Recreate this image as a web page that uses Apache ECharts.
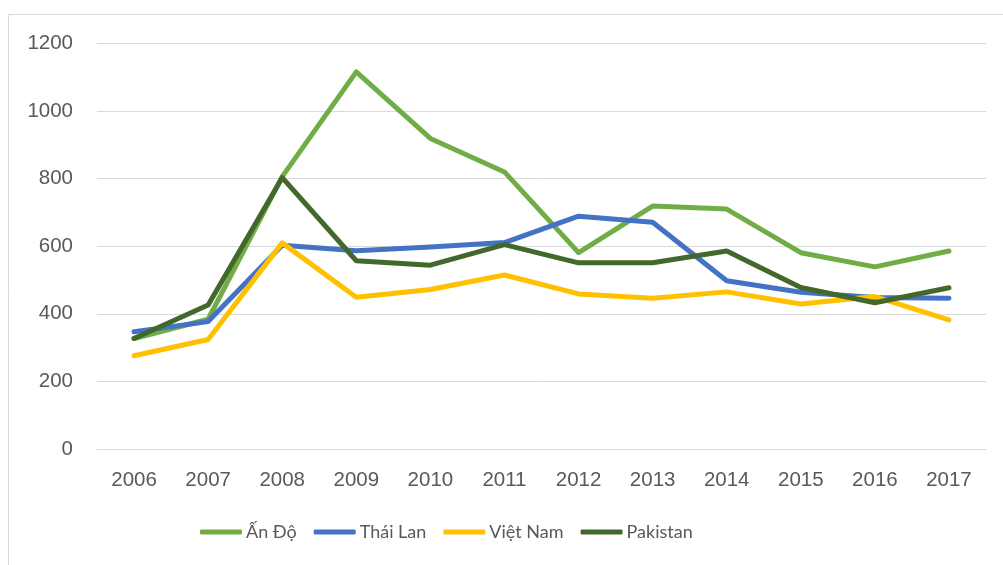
<!DOCTYPE html>
<html>
<head>
<meta charset="utf-8">
<script src="https://cdn.jsdelivr.net/npm/echarts@6/dist/echarts.min.js"></script>
<style>
html,body{margin:0;padding:0;background:#fff;}
#chart{width:1003px;height:565px;}
</style>
</head>
<body>
<div id="chart"></div>
<script>
const years = ['2006','2007','2008','2009','2010','2011','2012','2013','2014','2015','2016','2017'];
const seriesNames = ['Ấn Độ','Thái Lan','Việt Nam','Pakistan'];
const anDo     = [327, 384, 806, 1116, 919, 820, 581, 719, 710, 581, 539, 586];
const thaiLan  = [347, 377, 603, 587, 598, 611, 689, 671, 498, 464, 448, 446];
const vietNam  = [276, 324, 610, 449, 472, 515, 459, 446, 465, 429, 451, 382];
const pakistan = [327, 426, 803, 557, 544, 605, 551, 551, 586, 478, 433, 477];
const colors = ['#70AD47','#4472C4','#FFC000','#43682B'];

const chart = echarts.init(document.getElementById('chart'), null, {renderer:'canvas'});
const dataArr = [anDo, thaiLan, vietNam, pakistan];
chart.setOption({
  animation:false,
  color: colors,
  graphic:[{
    type:'polyline', silent:true,
    shape:{points:[[8.5,600],[8.5,14.5],[1100,14.5]]},
    style:{stroke:'#d9d9d9', lineWidth:1, fill:null}
  }],
  grid:{left:97, right:17, top:43.5, bottom:116, containLabel:false},
  legend:{
    left:195, top:518,
    itemWidth:42, itemHeight:5, itemGap:17,
    icon:'roundRect',
    textStyle:{fontFamily:'Lato,sans-serif', fontSize:18, color:'#595959', padding:[0,0,0,-1]},
    data: seriesNames
  },
  xAxis:{
    type:'category', data:years, boundaryGap:true,
    axisLine:{lineStyle:{color:'#d9d9d9', width:1}},
    axisTick:{show:false},
    axisLabel:{fontFamily:'"Liberation Sans",sans-serif', fontSize:20.5, color:'#595959', margin:21}
  },
  yAxis:{
    type:'value', min:0, max:1200, interval:200,
    axisLine:{show:false}, axisTick:{show:false},
    splitLine:{lineStyle:{color:'#d9d9d9', width:1}},
    axisLabel:{fontFamily:'"Liberation Sans",sans-serif', fontSize:20.5, color:'#595959', margin:24,
      formatter: v => String(v)}
  },
  series: seriesNames.map((n,i)=>({
    name:n, type:'line', data:dataArr[i],
    showSymbol:false, symbol:'none', smooth:false,
    lineStyle:{width:5, color:colors[i], cap:'round', join:'round'},
    z: 2+i
  }))
});
</script>
</body>
</html>
